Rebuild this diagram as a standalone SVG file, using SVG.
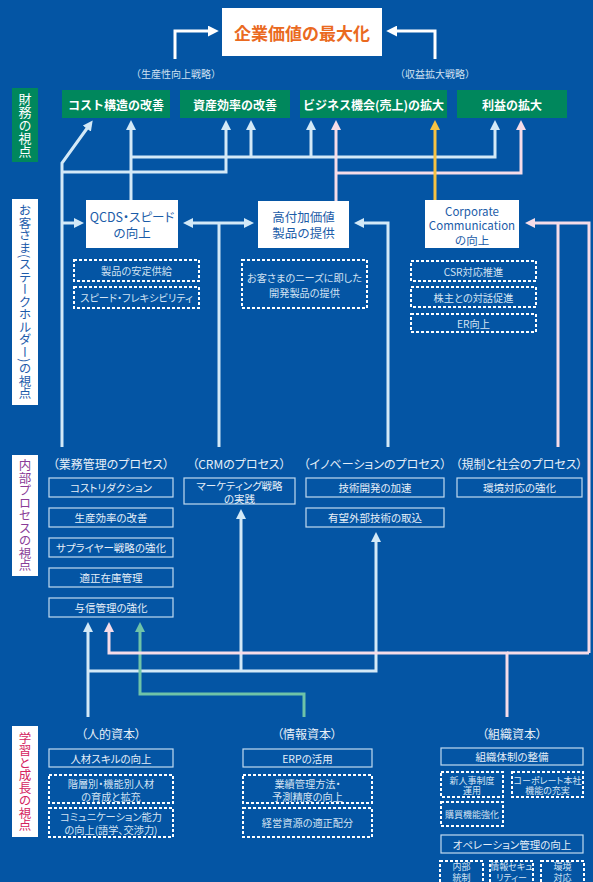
<svg xmlns="http://www.w3.org/2000/svg" width="593" height="882" viewBox="0 0 593 882">
  <style>
    text { font-family: "Noto Sans CJK JP", "Noto Sans", sans-serif; text-anchor: middle; dominant-baseline: central; }
    .palt { font-feature-settings: "palt" 1; }
    .title { font-size: 17px; font-weight: bold; fill: #ea6a1f; }
    .strat { font-size: 10px; fill: #cfe1f2; }
    .fin { fill: #00875c; }
    .fin-t { font-size: 12px; font-weight: bold; fill: #ffffff; }
    .cust { fill: #ffffff; }
    .cust-t { font-size: 12.5px; fill: #1b5ca8; }
    .corp-t { font-size: 11.5px; fill: #1b5ca8; }
    .dash { fill: none; stroke: #ffffff; stroke-width: 2; stroke-dasharray: 3 2; }
    .dash-t { font-size: 10.2px; fill: #d3e3f3; }
    .small-t { font-size: 9px; fill: #d3e3f3; }
    .proc { fill: none; stroke: #c2dbf0; stroke-width: 1.2; }
    .proc-t { font-size: 10.5px; fill: #e6eff8; }
    .head { font-size: 12px; fill: #e6eff8; }
    .vlab { writing-mode: vertical-rl; dominant-baseline: auto; }
    .lb { fill: none; stroke: #d3e9f7; stroke-width: 3; }
    .pk { fill: none; stroke: #f6dce8; stroke-width: 3; }
    .yl { fill: none; stroke: #f6c243; stroke-width: 3; }
    .tl { fill: none; stroke: #6fc3a8; stroke-width: 3; }
    .wh { fill: none; stroke: #ffffff; stroke-width: 3; }
  </style>
  <defs>
    <marker id="ah-lb" viewBox="0 0 10 10" refX="2" refY="5" markerWidth="10" markerHeight="10" markerUnits="userSpaceOnUse" orient="auto-start-reverse"><path d="M0,0 L10,5 L0,10 z" fill="#d3e9f7"/></marker>
    <marker id="ah-pk" viewBox="0 0 10 10" refX="2" refY="5" markerWidth="10" markerHeight="10" markerUnits="userSpaceOnUse" orient="auto"><path d="M0,0 L10,5 L0,10 z" fill="#f6dce8"/></marker>
    <marker id="ah-yl" viewBox="0 0 10 10" refX="2" refY="5" markerWidth="10" markerHeight="10" markerUnits="userSpaceOnUse" orient="auto"><path d="M0,0 L10,5 L0,10 z" fill="#f6c243"/></marker>
    <marker id="ah-tl" viewBox="0 0 10 10" refX="2" refY="5" markerWidth="10" markerHeight="10" markerUnits="userSpaceOnUse" orient="auto"><path d="M0,0 L10,5 L0,10 z" fill="#6fc3a8"/></marker>
    <marker id="ah-wh" viewBox="0 0 10 10" refX="2" refY="5" markerWidth="11" markerHeight="11" markerUnits="userSpaceOnUse" orient="auto"><path d="M0,0 L10,5 L0,10 z" fill="#ffffff"/></marker>
  </defs>

  <!-- background -->
  <rect x="0" y="0" width="593" height="882" fill="#0455a4"/>

  <!-- perspective labels -->
  <g id="label-finance">
    <rect x="12" y="88" width="26" height="74" class="fin"/>
    <text x="25" y="125" class="vlab" font-size="13" fill="#ffffff">財務の視点</text>
  </g>
  <g id="label-customer">
    <rect x="12" y="199" width="26" height="206" fill="#ffffff"/>
    <text x="25" y="302" class="vlab" font-size="12.5" fill="#1e5cab">お客さま(ステークホルダー)の視点</text>
  </g>
  <g id="label-internal">
    <rect x="12" y="455" width="26" height="121" fill="#ffffff"/>
    <text x="25" y="515.5" class="vlab" font-size="12.5" fill="#8a3d98">内部プロセスの視点</text>
  </g>
  <g id="label-learning">
    <rect x="12" y="726" width="26" height="111" fill="#ffffff"/>
    <text x="25" y="781.5" class="vlab" font-size="12.5" fill="#d4235f">学習と成長の視点</text>
  </g>

  <!-- connectors -->
  <g id="connectors">
    <!-- top strategy arrows -->
    <path class="wh" d="M175,59 V31 H210" marker-end="url(#ah-wh)"/>
    <path class="wh" d="M435,59 V31 H395" marker-end="url(#ah-wh)"/>

    <!-- customer to finance -->
    <path class="lb" d="M62,447 V163 L88,127" marker-end="url(#ah-lb)"/>
    <path class="lb" d="M62,172 H226 V128" marker-end="url(#ah-lb)"/>
    <path class="lb" d="M131,200 V128" marker-end="url(#ah-lb)"/>
    <path class="lb" d="M131,157 H495 V128" marker-end="url(#ah-lb)"/>
    <path class="lb" d="M251,157 V128" marker-end="url(#ah-lb)"/>
    <path class="lb" d="M311,157 V128" marker-end="url(#ah-lb)"/>
    <path class="pk" d="M336,201 V128" marker-end="url(#ah-pk)"/>
    <path class="pk" d="M336,173 H521 V128" marker-end="url(#ah-pk)"/>
    <path class="yl" d="M435,200 V128" marker-end="url(#ah-yl)"/>

    <!-- internal to customer -->
    <path class="lb" d="M62,223 H76" marker-end="url(#ah-lb)"/>
    <path class="lb" d="M191,223 H246" marker-start="url(#ah-lb)" marker-end="url(#ah-lb)"/>
    <path class="lb" d="M219,447 V223"/>
    <path class="lb" d="M388,447 V223 H362" marker-end="url(#ah-lb)"/>
    <path class="pk" d="M558,447 V223"/>
    <path class="pk" d="M589,653 V223 H533" marker-end="url(#ah-pk)"/>

    <!-- learning to internal -->
    <path class="lb" d="M88,717 V630" marker-end="url(#ah-lb)"/>
    <path class="lb" d="M88,671 H376 V540" marker-end="url(#ah-lb)"/>
    <path class="lb" d="M241,671 V517" marker-end="url(#ah-lb)"/>
    <path class="tl" d="M304,717 V694 H140 V630" marker-end="url(#ah-tl)"/>
    <path class="pk" d="M507,717 V653 H109 V630" marker-end="url(#ah-pk)"/>
    <path class="pk" d="M507,653 H589"/>
  </g>

  <!-- goal -->
  <g id="goal">
    <rect x="222" y="8" width="160" height="48" fill="#ffffff"/>
    <text x="302" y="32" class="title">企業価値の最大化</text>
  </g>
  <g id="strategy-labels">
    <text x="176" y="73" class="strat">（生産性向上戦略）</text>
    <text x="435" y="73" class="strat">（収益拡大戦略）</text>
  </g>

  <!-- financial perspective -->
  <g id="fin-cost">
    <rect x="62" y="90" width="108" height="28" class="fin"/>
    <text x="116" y="104" class="fin-t">コスト構造の改善</text>
  </g>
  <g id="fin-asset">
    <rect x="180" y="90" width="110" height="28" class="fin"/>
    <text x="235" y="104" class="fin-t">資産効率の改善</text>
  </g>
  <g id="fin-business">
    <rect x="300" y="90" width="147" height="28" class="fin"/>
    <text x="373.5" y="104" class="fin-t">ビジネス機会(売上)の拡大</text>
  </g>
  <g id="fin-profit">
    <rect x="457" y="90" width="110" height="28" class="fin"/>
    <text x="512" y="104" class="fin-t">利益の拡大</text>
  </g>

  <!-- customer perspective -->
  <g id="cust-qcds">
    <rect x="86" y="200" width="92" height="48" class="cust"/>
    <text x="132" y="216" class="cust-t palt">QCDS・スピード</text>
    <text x="132" y="232" class="cust-t">の向上</text>
    <rect x="74" y="260" width="125" height="21" class="dash"/>
    <text x="136.5" y="270.5" class="dash-t palt">製品の安定供給</text>
    <rect x="74" y="287" width="125" height="21" class="dash"/>
    <text x="136.5" y="297.5" class="dash-t palt">スピード・フレキシビリティ</text>
  </g>
  <g id="cust-value">
    <rect x="258" y="201" width="91" height="47" class="cust"/>
    <text x="303.5" y="216" class="cust-t">高付加価値</text>
    <text x="303.5" y="232" class="cust-t">製品の提供</text>
    <rect x="242" y="260" width="125" height="48" class="dash"/>
    <text x="304.5" y="277" class="dash-t palt">お客さまのニーズに即した</text>
    <text x="304.5" y="292" class="dash-t palt">開発製品の提供</text>
  </g>
  <g id="cust-corporate">
    <rect x="425" y="200" width="94" height="48" class="cust"/>
    <text x="472" y="211" class="corp-t">Corporate</text>
    <text x="472" y="225" class="corp-t">Communication</text>
    <text x="472" y="240" class="corp-t">の向上</text>
    <rect x="411" y="261" width="125" height="20" class="dash"/>
    <text x="473.5" y="271" class="dash-t palt">CSR対応推進</text>
    <rect x="411" y="287" width="125" height="20" class="dash"/>
    <text x="473.5" y="297" class="dash-t palt">株主との対話促進</text>
    <rect x="411" y="314" width="125" height="18" class="dash"/>
    <text x="473.5" y="323" class="dash-t palt">ER向上</text>
  </g>

  <!-- internal process perspective -->
  <g id="proc-operations">
    <text x="111" y="463" class="head palt">（業務管理のプロセス）</text>
    <rect x="49" y="478" width="124" height="19" class="proc"/>
    <text x="111" y="487.5" class="proc-t palt">コストリダクション</text>
    <rect x="49" y="508" width="124" height="19" class="proc"/>
    <text x="111" y="517.5" class="proc-t palt">生産効率の改善</text>
    <rect x="49" y="538" width="124" height="19" class="proc"/>
    <text x="111" y="547.5" class="proc-t palt">サプライヤー戦略の強化</text>
    <rect x="49" y="568" width="124" height="19" class="proc"/>
    <text x="111" y="577.5" class="proc-t palt">適正在庫管理</text>
    <rect x="49" y="598" width="124" height="19" class="proc"/>
    <text x="111" y="607.5" class="proc-t palt">与信管理の強化</text>
  </g>
  <g id="proc-crm">
    <text x="239" y="463" class="head palt">（CRMのプロセス）</text>
    <rect x="184" y="478" width="111" height="26" class="proc"/>
    <text x="239.5" y="485" class="proc-t palt">マーケティング戦略</text>
    <text x="239.5" y="498" class="proc-t palt">の実践</text>
  </g>
  <g id="proc-innovation">
    <text x="375" y="463" class="head palt">（イノベーションのプロセス）</text>
    <rect x="306" y="478" width="138" height="19" class="proc"/>
    <text x="375" y="487.5" class="proc-t palt">技術開発の加速</text>
    <rect x="306" y="508" width="138" height="19" class="proc"/>
    <text x="375" y="517.5" class="proc-t palt">有望外部技術の取込</text>
  </g>
  <g id="proc-regulatory">
    <text x="519" y="463" class="head palt">（規制と社会のプロセス）</text>
    <rect x="457" y="478" width="125" height="19" class="proc"/>
    <text x="519.5" y="487.5" class="proc-t palt">環境対応の強化</text>
  </g>

  <!-- learning and growth perspective -->
  <g id="cap-human">
    <text x="111" y="733" class="head palt">（人的資本）</text>
    <rect x="49" y="749" width="124" height="18" class="proc"/>
    <text x="111" y="758" class="proc-t palt">人材スキルの向上</text>
    <rect x="49" y="775" width="124" height="28" class="dash"/>
    <text x="111" y="783" class="dash-t palt">階層別・機能別人材</text>
    <text x="111" y="796" class="dash-t palt">の育成と拡充</text>
    <rect x="49" y="808" width="124" height="29" class="dash"/>
    <text x="111" y="816" class="dash-t palt">コミュニケーション能力</text>
    <text x="111" y="829" class="dash-t palt">の向上(語学、交渉力)</text>
  </g>
  <g id="cap-information">
    <text x="307" y="733" class="head palt">（情報資本）</text>
    <rect x="243" y="749" width="129" height="18" class="proc"/>
    <text x="307.5" y="758" class="proc-t palt">ERPの活用</text>
    <rect x="243" y="775" width="129" height="28" class="dash"/>
    <text x="307.5" y="783" class="dash-t palt">業績管理方法・</text>
    <text x="307.5" y="796" class="dash-t palt">予測精度の向上</text>
    <rect x="243" y="808" width="129" height="29" class="dash"/>
    <text x="307.5" y="822.5" class="dash-t palt">経営資源の適正配分</text>
  </g>
  <g id="cap-organization">
    <text x="512" y="733" class="head palt">（組織資本）</text>
    <rect x="441" y="748" width="142" height="17" class="proc"/>
    <text x="512" y="756.5" class="proc-t palt">組織体制の整備</text>
    <rect x="441" y="772" width="62" height="25" class="dash"/>
    <text x="472" y="780" class="small-t palt">新人事制度</text>
    <text x="472" y="790.5" class="small-t palt">運用</text>
    <rect x="512" y="772" width="71" height="25" class="dash"/>
    <text x="547.5" y="780" class="small-t palt">コーポレート本社</text>
    <text x="547.5" y="790.5" class="small-t palt">機能の充実</text>
    <rect x="441" y="802" width="62" height="24" class="dash"/>
    <text x="472" y="814" class="small-t palt">購買機能強化</text>
    <rect x="441" y="835" width="142" height="18" class="proc"/>
    <text x="512" y="844" class="proc-t palt">オペレーション管理の向上</text>
    <rect x="440" y="861" width="43" height="30" class="dash"/>
    <text x="461.5" y="866" class="small-t">内部</text>
    <text x="461.5" y="877" class="small-t">統制</text>
    <rect x="490" y="861" width="43" height="30" class="dash"/>
    <text x="511.5" y="866" class="small-t palt">情報セキュ</text>
    <text x="511.5" y="877" class="small-t palt">リティー</text>
    <rect x="541" y="861" width="43" height="30" class="dash"/>
    <text x="562.5" y="866" class="small-t">環境</text>
    <text x="562.5" y="877" class="small-t">対応</text>
  </g>
</svg>
